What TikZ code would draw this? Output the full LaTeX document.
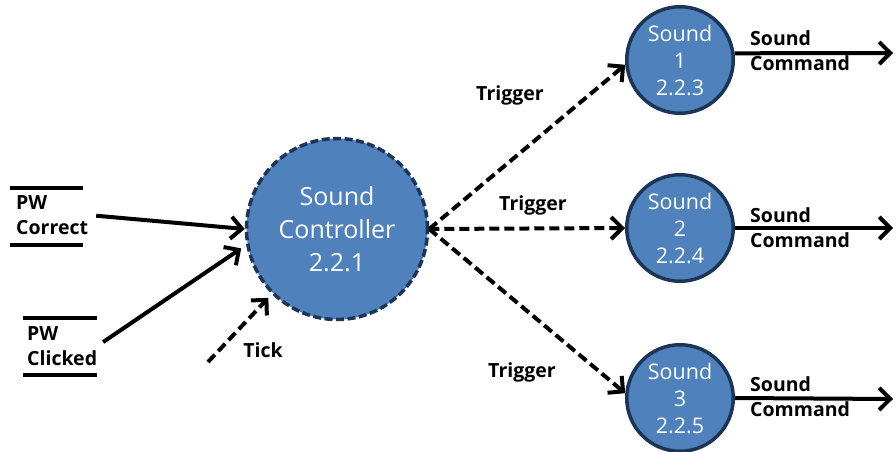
\documentclass[tikz,border=0pt]{standalone}
\usepackage{fontspec}
\setmainfont{Open Sans}
\usetikzlibrary{arrows.meta}
\definecolor{fillblue}{HTML}{4F81BD}
\definecolor{edgeblue}{HTML}{1C3557}
\begin{document}
\begin{tikzpicture}[x=1pt,y=-1pt,
  proc/.style={circle, fill=fillblue, draw=edgeblue, line width=3.5pt, text=white, align=center, inner sep=0pt},
  ctrlbox/.style={proc, minimum size=181pt, dash pattern=on 8pt off 3.5pt, font=\fontsize{25}{33}\selectfont},
  subbox/.style={proc, minimum size=106.5pt, font=\fontsize{21.5}{27}\selectfont},
  lbl/.style={font=\bfseries\fontsize{19.5}{25}\selectfont, align=left, inner sep=0pt},
  bar/.style={line width=4pt},
  flow/.style={line width=4pt, -{Straight Barb[length=11pt,width=22pt]}},
  dflow/.style={flow, dash pattern=on 10pt off 5pt}
]
\useasboundingbox (0,0) rectangle (896,452);

% processes
\node[ctrlbox] (ctrl) at (337,229) {Sound\\Controller\\2.2.1};
\node[subbox] (s1) at (680,60) {Sound\\1\\2.2.3};
\node[subbox] (s2) at (680,228) {Sound\\2\\2.2.4};
\node[subbox] (s3) at (680,398) {Sound\\3\\2.2.5};

% data stores
\node[lbl, anchor=west] (pwc) at (16,215) {PW\\Correct};
\draw[bar] (10,188) -- (83,188);
\draw[bar] (10,245) -- (83,245);
\node[lbl, anchor=west] (pwk) at (27,346) {PW\\Clicked};
\draw[bar] (23,318) -- (97,318);
\draw[bar] (23,375) -- (97,375);

% inputs
\draw[flow, shorten <=8pt] (pwc.east) -- (ctrl.west);
\draw[flow, shorten <=7pt, shorten >=6pt] (pwk.east) -- (ctrl.190);
\coordinate (tk) at (208,362);
\draw[dflow, shorten >=5pt] (tk) -- (ctrl.225);
\node[lbl] (ticklbl) at (263,350) {Tick};

% triggers
\draw[dflow] (ctrl.east) -- (s1.185);
\draw[dflow] (ctrl.east) -- (s2.west);
\draw[dflow] (ctrl.east) -- (s3.175);
\node[lbl] (t1) at (510,95) {Trigger};
\node[lbl] (t2) at (533,205) {Trigger};
\node[lbl] (t3) at (522,372) {Trigger};

% outputs
\coordinate (o1) at (893,53);
\coordinate (o2) at (893,228);
\coordinate (o3) at (893,399);
\draw[flow] (s1.7) -- (o1);
\draw[flow] (s2.east) -- (o2);
\draw[flow] (s3.east) -- (o3);
\node[lbl, anchor=west] (c1) at (750,50.5) {Sound\\Command};
\node[lbl, anchor=west] (c2) at (750,227.5) {Sound\\Command};
\node[lbl, anchor=west] (c3) at (750,397) {Sound\\Command};
\end{tikzpicture}
\end{document}
